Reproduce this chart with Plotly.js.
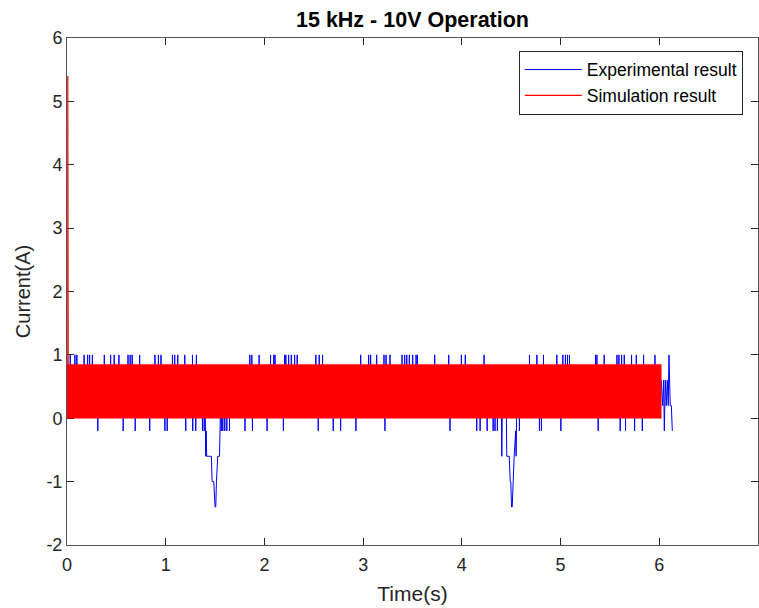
<!DOCTYPE html>
<html>
<head>
<meta charset="utf-8">
<script src="https://cdn.plot.ly/plotly-3.0.1.min.js"></script>
<style>html,body{margin:0;padding:0;background:#fff;}#chart{width:759px;height:608px;}</style>
</head>
<body>
<div id="chart"></div>
<script>
// ---- Experimental result (blue) ----
// times (s) of short spikes reaching +1.0 A above the band
const upSpikeTimes = [0.033, 0.08, 0.10, 0.173, 0.209, 0.229, 0.257, 0.378, 0.442, 0.478, 0.526, 0.618, 0.64, 0.66, 0.736, 0.891, 0.926, 0.952, 1.068, 1.091, 1.122, 1.193, 1.271, 1.311, 1.852, 1.872, 1.946, 2.062, 2.095, 2.107, 2.204, 2.217, 2.245, 2.272, 2.306, 2.332, 2.521, 2.555, 2.589, 2.975, 3.056, 3.076, 3.137, 3.211, 3.232, 3.272, 3.394, 3.421, 3.442, 3.468, 3.502, 3.536, 3.549, 3.725, 3.867, 3.995, 4.035, 4.225, 4.685, 4.760, 4.827, 4.962, 5.023, 5.049, 5.070, 5.090, 5.354, 5.368, 5.442, 5.571, 5.591, 5.618, 5.645, 5.719, 5.767, 5.841, 5.956];
const upSpikeValue = 1.0;
// times (s) of short spikes reaching -0.2 A below the band
const downSpikeTimes = [0.312, 0.569, 0.691, 0.838, 0.992, 1.015, 1.203, 1.274, 1.304, 1.372, 1.390, 1.563, 1.578, 1.598, 1.619, 1.646, 1.803, 1.879, 2.027, 2.192, 2.545, 2.697, 2.772, 2.927, 3.221, 3.880, 4.151, 4.185, 4.256, 4.317, 4.336, 4.360, 4.583, 4.786, 4.806, 5.003, 5.381, 5.604, 5.658, 5.750, 5.828];
const downSpikeValue = -0.2;
// in-band levels of the experimental signal
const expHighLevel = 0.6;
const expLowLevel = 0.2;
// first dip near 1.5 s
const dip1Times  = [1.40, 1.405, 1.41, 1.415, 1.42, 1.463, 1.47, 1.487, 1.50, 1.507, 1.514, 1.527, 1.545, 1.55, 1.555];
const dip1Values = [0.2, -0.6, -0.2, -0.6, -0.6, -0.6, -1.0, -1.0, -1.4, -1.4, -1.0, -0.6, -0.6, -0.2, 0.2];
// second dip near 4.5 s
const dip2Times  = [4.40, 4.405, 4.41, 4.45, 4.455, 4.48, 4.49, 4.496, 4.503, 4.51, 4.52, 4.525, 4.53, 4.545, 4.55, 4.556];
const dip2Values = [0.2, -0.6, 0.2, 0.2, -0.6, -0.6, -1.0, -1.0, -1.4, -1.4, -1.0, -0.6, -0.6, -0.2, -0.6, 0.2];
// tail after the simulation ends
const tailTimes  = [6.02, 6.034, 6.044, 6.051, 6.061, 6.071, 6.081, 6.091, 6.098, 6.111, 6.122, 6.132];
const tailValues = [0.6, 0.2, 0.6, -0.2, 0.6, 0.2, 0.6, 0.2, 1.0, 0.2, 0.2, -0.2];

// ---- Simulation result (red) ----
// envelope of the 15 kHz switching waveform
const simEnvTime = [0, 6.02];
const simEnvHigh = [0.85, 0.85];
const simEnvLow  = [0, 0];
// start-up inrush peak
const simStartTime  = [0.008, 0.008, 0.012];
const simStartValue = [0, 5.4, 0.85];

// ---- tick labels ----
const xTickVals = [0, 1, 2, 3, 4, 5, 6, 7];
const xTickText = ['0', '1', '2', '3', '4', '5', '6', '7'];
const yTickVals = [-2, -1, 0, 1, 2, 3, 4, 5, 6];
const yTickText = ['-2', '-1', '0', '1', '2', '3', '4', '5', '6'];

// ---- build the experimental trace from the event lists ----
const groups = [];
upSpikeTimes.forEach(t => groups.push({t: t, p: [[t, expHighLevel], [t, upSpikeValue], [t, expHighLevel]]}));
downSpikeTimes.forEach(t => groups.push({t: t, p: [[t, expLowLevel], [t, downSpikeValue], [t, expLowLevel]]}));
groups.push({t: dip1Times[0], p: dip1Times.map((t, i) => [t, dip1Values[i]])});
groups.push({t: dip2Times[0], p: dip2Times.map((t, i) => [t, dip2Values[i]])});
groups.push({t: tailTimes[0], p: tailTimes.map((t, i) => [t, tailValues[i]])});
groups.sort((a, b) => a.t - b.t);
const expX = [], expY = [];
groups.forEach(g => g.p.forEach(q => { expX.push(q[0]); expY.push(q[1]); }));

const polyX = [simEnvTime[0], simEnvTime[1], simEnvTime[1], simEnvTime[0], simEnvTime[0]];
const polyY = [simEnvLow[0], simEnvLow[1], simEnvHigh[1], simEnvHigh[0], simEnvLow[0]];

const FONT = '"Liberation Sans", Arial, Helvetica, sans-serif';
const traces = [
  {x: expX, y: expY, type: 'scatter', mode: 'lines', name: 'Experimental result',
   line: {color: '#0000ff', width: 1}},
  {x: polyX, y: polyY, type: 'scatter', mode: 'lines', fill: 'toself', fillcolor: '#ff0000',
   line: {color: '#ff0000', width: 0.5}, showlegend: false, hoverinfo: 'skip'},
  {x: simStartTime, y: simStartValue, type: 'scatter', mode: 'lines', name: 'Simulation result',
   line: {color: '#ff0000', width: 1.2}}
];

const axisCommon = {
  showgrid: false, zeroline: false, showline: true, linecolor: '#555555', linewidth: 1,
  mirror: 'ticks', ticks: 'inside', ticklen: 7, tickcolor: '#262626', tickwidth: 1,
  tickfont: {family: FONT, size: 18, color: '#262626'}, layer: 'below traces', tickmode: 'array'
};

const layout = {
  width: 759, height: 608,
  margin: {l: 67, r: 1, t: 38, b: 63},
  paper_bgcolor: '#ffffff', plot_bgcolor: '#ffffff',
  title: {text: '<b>15 kHz - 10V Operation</b>', font: {family: FONT, size: 21.5, color: '#000000'},
          x: 0.5, xref: 'paper', xanchor: 'center', y: 0.968, yref: 'container', yanchor: 'middle'},
  xaxis: Object.assign({}, axisCommon, {range: [0, 7], tickvals: xTickVals, ticktext: xTickText,
          ticklabelstandoff: 3,
          title: {text: 'Time(s)', font: {family: FONT, size: 21, color: '#262626'}, standoff: 12}}),
  yaxis: Object.assign({}, axisCommon, {range: [-2, 6], tickvals: yTickVals, ticktext: yTickText,
          title: {text: 'Current(A)', font: {family: FONT, size: 20, color: '#262626'}, standoff: 10}}),
  showlegend: true,
  legend: {x: 0.978, xanchor: 'right', y: 0.975, yanchor: 'top', bgcolor: '#ffffff',
           bordercolor: '#262626', borderwidth: 1, font: {family: FONT, size: 17.5, color: '#000000'},
           itemwidth: 57, tracegroupgap: 0}
};

Plotly.newPlot('chart', traces, layout, {staticPlot: true, displayModeBar: false});
</script>
</body>
</html>
